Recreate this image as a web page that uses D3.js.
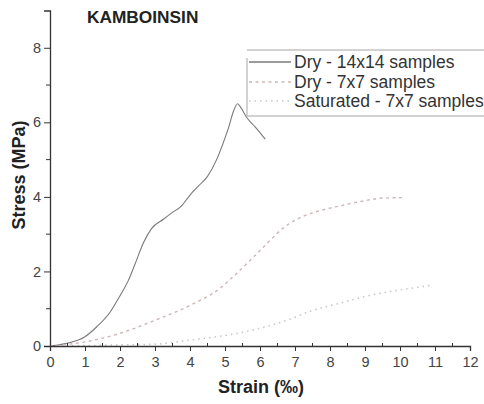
<!DOCTYPE html>
<html>
<head>
<meta charset="utf-8">
<script src="https://cdn.jsdelivr.net/npm/d3@7"></script>
<style>
	body { margin: 0; background: #fff; }
	svg { font-family: "Liberation Sans", Arial, sans-serif; }
</style>
</head>
<body>
<svg id="plot" width="484" height="404" viewBox="0 0 484 404"></svg>
<script>
// values
const dry14Strain = [0, 0.3, 0.6, 1.0, 1.33, 1.71, 2.0, 2.24, 2.43, 2.67, 2.9, 3.24, 3.48, 3.76, 4.0, 4.25, 4.5, 4.76, 4.95, 5.1, 5.24, 5.36, 5.45, 5.62, 5.86, 6.15];
const dry14Stress = [0, 0.04, 0.1, 0.25, 0.51, 0.9, 1.35, 1.76, 2.2, 2.77, 3.15, 3.4, 3.57, 3.76, 4.05, 4.3, 4.55, 5.0, 5.45, 5.85, 6.29, 6.5, 6.4, 6.13, 5.88, 5.55];

const dry7Strain = [0, 1, 2, 3, 4, 4.86, 5.14, 5.71, 6.2, 6.67, 7.14, 7.71, 8.29, 8.95, 9.52, 10.14];
const dry7Stress = [0, 0.11, 0.34, 0.69, 1.09, 1.55, 1.78, 2.29, 2.75, 3.17, 3.44, 3.63, 3.76, 3.89, 3.97, 3.98];

const sat7Strain = [0, 1, 2, 3, 4, 5.05, 5.8, 6.77, 7.52, 8.29, 9.14, 9.9, 10.48, 10.9];
const sat7Stress = [0, 0.01, 0.03, 0.05, 0.16, 0.29, 0.43, 0.69, 0.96, 1.15, 1.36, 1.49, 1.57, 1.63];

const seriesNames = ["Dry - 14x14 samples", "Dry - 7x7 samples", "Saturated - 7x7 samples"];
const xTicks = [0, 1, 2, 3, 4, 5, 6, 7, 8, 9, 10, 11, 12];
const yTicks = [0, 2, 4, 6, 8];

const svg = d3.select("#plot");

const x = d3.scaleLinear().domain([0, 12]).range([50, 470]);
const y = d3.scaleLinear().domain([0, 9]).range([346, 10.5]);

const series = [
	{ name: seriesNames[0], pts: d3.zip(dry14Strain, dry14Stress), color: "#7a7a7a", dash: null, width: 1.1 },
	{ name: seriesNames[1], pts: d3.zip(dry7Strain, dry7Stress), color: "#cdb6b6", dash: "3,3.5", width: 1.4 },
	{ name: seriesNames[2], pts: d3.zip(sat7Strain, sat7Stress), color: "#c8c8c8", dash: "1.5,4", width: 1.6 }
];

const line = d3.line()
	.x(d => x(d[0]))
	.y(d => y(d[1]))
	.curve(d3.curveMonotoneX);

// curves
svg.append("g").selectAll("path")
	.data(series)
	.enter().append("path")
	.attr("d", d => line(d.pts))
	.attr("fill", "none")
	.attr("stroke", d => d.color)
	.attr("stroke-width", d => d.width)
	.attr("stroke-dasharray", d => d.dash);

// x axis: major ticks down, minor ticks up
const xAxis = svg.append("g").attr("transform", "translate(0,346)")
	.call(d3.axisBottom(x).tickValues(xTicks).tickSize(5).tickPadding(6).tickFormat(d3.format("d")));
xAxis.append("g").selectAll("line")
	.data(d3.range(0.5, 12, 1))
	.enter().append("line")
	.attr("x1", d => x(d)).attr("x2", d => x(d))
	.attr("y1", 0).attr("y2", -3)
	.attr("stroke", "#333");

// y axis with minor ticks
const yAxis = svg.append("g").attr("transform", "translate(50,0)")
	.call(d3.axisLeft(y).tickValues(yTicks).tickSize(6).tickPadding(3).tickFormat(d3.format("d")));
yAxis.append("g").selectAll("line")
	.data([1, 3, 5, 7])
	.enter().append("line")
	.attr("x1", 0).attr("x2", -4)
	.attr("y1", d => y(d)).attr("y2", d => y(d))
	.attr("stroke", "#333");

svg.selectAll(".domain").attr("stroke", "#333").attr("stroke-width", 1.3);
svg.selectAll(".tick line").attr("stroke", "#333");
svg.selectAll(".tick text")
	.attr("font-family", "'Liberation Sans', Arial, sans-serif")
	.attr("font-size", 14.5)
	.attr("fill", "#444");

// title and axis labels
svg.append("text")
	.attr("x", 87).attr("y", 23)
	.attr("font-size", 17.3).attr("font-weight", "bold").attr("fill", "#222")
	.text("KAMBOINSIN");

svg.append("text")
	.attr("transform", "translate(25,175) rotate(-90)")
	.attr("text-anchor", "middle")
	.attr("font-size", 18).attr("font-weight", "bold").attr("fill", "#222")
	.text("Stress (MPa)");

svg.append("text")
	.attr("x", 261).attr("y", 393)
	.attr("text-anchor", "middle")
	.attr("font-size", 18).attr("font-weight", "bold").attr("fill", "#222")
	.text("Strain (‰)");

// legend
const legend = svg.append("g");
legend.append("path")
	.attr("d", "M247,116 V58 M247,50 H484 M247,116 H484")
	.attr("fill", "none").attr("stroke", "#c4c4c4").attr("stroke-width", 1.5);

const rows = legend.selectAll("g.row")
	.data(series)
	.enter().append("g")
	.attr("transform", (d, i) => `translate(0,${[62, 82, 101][i]})`);
rows.append("line")
	.attr("x1", 249).attr("x2", 291)
	.attr("stroke", d => d.color)
	.attr("stroke-width", 1.4)
	.attr("stroke-dasharray", d => d.dash);
rows.append("text")
	.attr("x", 294).attr("y", 5.5)
	.attr("font-size", 17.5).attr("fill", "#333")
	.text(d => d.name);
</script>
</body>
</html>
